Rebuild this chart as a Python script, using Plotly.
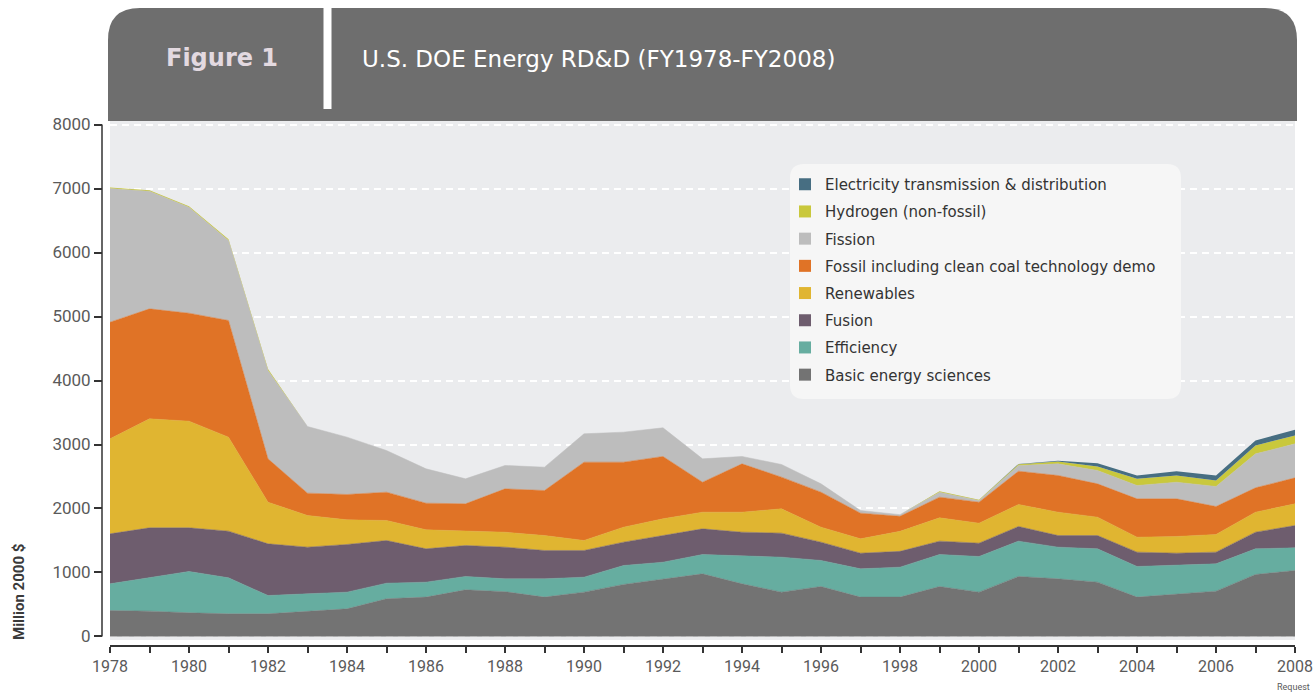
import plotly.graph_objects as go

# ---------------- data (million 2000 $) ----------------
years = list(range(1978, 2009))

basic = [406, 396, 370, 354, 354, 396, 432, 589, 615, 729, 700, 615, 693, 813, 901, 979,
         823, 693, 781, 615, 615, 781, 693, 938, 901, 849, 615, 656, 708, 969, 1031]
efficiency = [417, 521, 646, 563, 286, 271, 261, 244, 234, 209, 201, 286, 234, 296, 260, 302,
              443, 547, 407, 442, 468, 500, 557, 552, 495, 521, 479, 453, 427, 401, 354]
fusion = [781, 781, 682, 729, 808, 729, 745, 667, 521, 484, 495, 443, 417, 365, 417, 401,
          364, 375, 286, 245, 247, 209, 208, 229, 182, 208, 224, 193, 183, 260, 349]
renewables = [1485, 1703, 1667, 1469, 651, 495, 385, 313, 297, 224, 234, 234, 156, 234, 261, 261,
              313, 380, 234, 224, 313, 364, 313, 344, 365, 287, 234, 261, 276, 313, 339]
fossil = [1822, 1719, 1687, 1823, 677, 349, 396, 442, 416, 427, 677, 703, 1224, 1016, 974, 468,
          755, 495, 547, 401, 235, 323, 328, 520, 573, 520, 599, 588, 437, 380, 406]
fission = [2089, 1838, 1656, 1250, 1380, 1041, 896, 651, 537, 391, 365, 365, 443, 469, 448, 365,
           115, 198, 130, 42, 26, 78, 26, 89, 182, 209, 208, 260, 313, 531, 531]
hydrogen = [15, 15, 15, 20, 25, 0, 0, 0, 0, 0, 0, 0, 0, 0, 0, 0,
            0, 0, 0, 0, 0, 15, 10, 20, 36, 62, 105, 105, 94, 130, 131]
electricity = [0, 0, 0, 0, 0, 0, 0, 0, 0, 0, 0, 0, 0, 0, 0, 0,
               0, 0, 0, 0, 0, 0, 0, 5, 11, 52, 52, 67, 78, 79, 88]

series_names = ["Basic energy sciences", "Efficiency", "Fusion", "Renewables",
                "Fossil including clean coal technology demo", "Fission",
                "Hydrogen (non-fossil)", "Electricity transmission & distribution"]
series_values = [basic, efficiency, fusion, renewables, fossil, fission, hydrogen, electricity]
series_colors = ["#737373", "#66ada0", "#6e5d6e", "#e0b531", "#e07326", "#bdbdbd",
                 "#c9c83c", "#476e82"]
series_linewidths = [0.5, 0.5, 0.5, 0.5, 0.5, 0.5, 0, 0]

tick_years = list(range(1978, 2009, 2))
tick_labels = [str(y) for y in tick_years]
last_year_note = "Request"
y_ticks = list(range(0, 8001, 1000))

title_left = "Figure 1"
title_main = "U.S. DOE Energy RD&D (FY1978-FY2008)"
y_title = "Million 2000 $"

# ---------------- layout helpers ----------------
W, H = 1313, 693
OFF = 0  # body margin removed by post_script: window pixel == figure pixel


def fx(px):
    return (px - OFF) / W


def fy(py):
    return 1 - (py - OFF) / H


AX_FONT = "Roboto, Liberation Sans, sans-serif"

fig = go.Figure()

for name, vals, col, lw in zip(series_names, series_values, series_colors, series_linewidths):
    fig.add_trace(go.Scatter(
        x=years, y=vals, name=name, stackgroup="one", mode="lines",
        line=dict(width=lw, color=col), fillcolor=col, showlegend=False,
        hoverinfo="x+y+name"))

# legend entries (square swatches), top to bottom
for i, (name, col) in enumerate(reversed(list(zip(series_names, series_colors)))):
    fig.add_trace(go.Scatter(
        x=[None], y=[None], name=name, mode="markers",
        marker=dict(symbol="square", size=11, color=col),
        legendgroup="g%d" % i, showlegend=True))

# header shape with rounded top corners
x0, x1, yt, yb, r = 108, 1297, 8, 121, 32
header = (f"M {fx(x0)},{fy(yb)} L {fx(x0)},{fy(yt + r)} Q {fx(x0)},{fy(yt)} {fx(x0 + r)},{fy(yt)} "
          f"L {fx(x1 - r)},{fy(yt)} Q {fx(x1)},{fy(yt)} {fx(x1)},{fy(yt + r)} L {fx(x1)},{fy(yb)} Z")

# legend background rounded rectangle
lx0, lx1, ly0, ly1, lr = 790, 1181, 164, 399, 14
legbg = (f"M {fx(lx0 + lr)},{fy(ly0)} L {fx(lx1 - lr)},{fy(ly0)} Q {fx(lx1)},{fy(ly0)} {fx(lx1)},{fy(ly0 + lr)} "
         f"L {fx(lx1)},{fy(ly1 - lr)} Q {fx(lx1)},{fy(ly1)} {fx(lx1 - lr)},{fy(ly1)} "
         f"L {fx(lx0 + lr)},{fy(ly1)} Q {fx(lx0)},{fy(ly1)} {fx(lx0)},{fy(ly1 - lr)} "
         f"L {fx(lx0)},{fy(ly0 + lr)} Q {fx(lx0)},{fy(ly0)} {fx(lx0 + lr)},{fy(ly0)} Z")

shapes = [
    dict(type="path", path=header, xref="paper", yref="paper",
         fillcolor="#6e6e6e", line=dict(width=0), layer="above"),
    dict(type="line", xref="paper", yref="paper", x0=fx(327.5), x1=fx(327.5), y0=fy(8), y1=fy(109),
         line=dict(color="white", width=8), layer="above"),
    dict(type="path", path=legbg, xref="paper", yref="paper",
         fillcolor="#f6f6f6", line=dict(width=0), layer="above"),
    dict(type="line", xref="paper", yref="y", x0=fx(102), x1=fx(102), y0=0, y1=8000,
         line=dict(color="#333333", width=1.5)),
]

annotations = [
    dict(text=f"<b>{title_left}</b>", x=fx(222), y=fy(58), xref="paper", yref="paper",
         showarrow=False, xanchor="center", yanchor="middle",
         font=dict(family="DejaVu Sans, sans-serif", size=24, color="#e3d9e0")),
    dict(text=title_main, x=fx(360), y=fy(59), xref="paper", yref="paper",
         showarrow=False, xanchor="left", yanchor="middle",
         font=dict(family="DejaVu Sans, sans-serif", size=23, color="#ffffff")),
    dict(text=f"<b>{y_title}</b>", x=fx(19), y=fy(592), xref="paper", yref="paper",
         showarrow=False, textangle=-90, xanchor="center", yanchor="middle",
         font=dict(family=AX_FONT, size=15, color="#3a3a3a")),
    dict(text=last_year_note, x=fx(1311), xref="paper", y=fy(687), yref="paper",
         showarrow=False, xanchor="right", yanchor="middle", borderpad=0,
         font=dict(family=AX_FONT, size=9, color="#5a5a5a")),
]

fig.update_layout(
    width=W, height=H,
    margin=dict(l=0, r=0, t=0, b=0, autoexpand=False),
    paper_bgcolor="white",
    plot_bgcolor="#ebecee",
    shapes=shapes,
    annotations=annotations,
    showlegend=True,
    legend=dict(x=fx(785), y=fy(168), xanchor="left", yanchor="top",
                bgcolor="rgba(0,0,0,0)", borderwidth=0,
                font=dict(family="DejaVu Sans, sans-serif", size=15, color="#333333"),
                tracegroupgap=4.7, itemsizing="constant", traceorder="grouped"),
    xaxis=dict(
        domain=[fx(110), fx(1295)], range=[1978, 2008],
        anchor="free", position=fy(646),
        showgrid=False, zeroline=False,
        showline=True, linecolor="#333333", linewidth=1.5,
        tickmode="array", tickvals=tick_years, ticktext=tick_labels,
        ticks="outside", ticklen=6, tickwidth=1.5, tickcolor="#333333",
        ticklabeloverflow="allow",
        minor=dict(tickmode="array", tickvals=years, ticks="outside", ticklen=6,
                   tickwidth=1.5, tickcolor="#333333", showgrid=False),
        tickfont=dict(family=AX_FONT, size=16, color="#5a5a5a"),
        fixedrange=True,
    ),
    yaxis=dict(
        domain=[fy(640), fy(121)], range=[-55, 8055],
        anchor="free", position=fx(102),
        showline=False, zeroline=False,
        tickmode="array", tickvals=y_ticks,
        ticks="outside", ticklen=8, tickwidth=1.5, tickcolor="#333333",
        showgrid=True, gridcolor="#ffffff", gridwidth=1.5, griddash="7px,5px",
        tickfont=dict(family=AX_FONT, size=17, color="#5a5a5a"),
        fixedrange=True,
    ),
)

fig.write_html(
    "out.html",
    config={"displayModeBar": False},
    post_script="document.body.style.margin='0';document.body.style.overflow='hidden';",
)
